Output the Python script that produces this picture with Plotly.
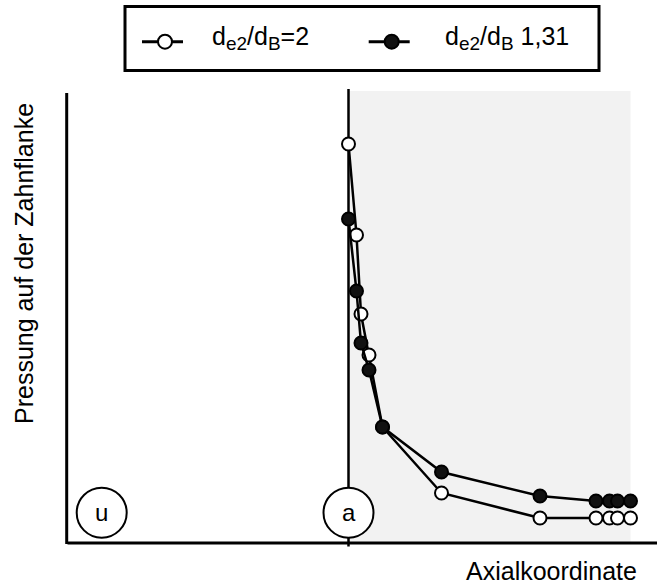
import plotly.graph_objects as go

# Axial coordinate of the measuring points (0 = position "a")
axial_pos = [0.0, 0.8, 1.25, 2.05, 3.4, 9.3, 19.15, 24.75, 26.1, 26.9, 28.2]

# Flank pressure for the two diameter ratios
pressure_ratio_2 = [3.99, 3.08, 2.29, 1.88, 1.16, 0.50, 0.25, 0.25, 0.25, 0.25, 0.25]
pressure_ratio_131 = [3.24, 2.52, 2.00, 1.73, 1.16, 0.71, 0.47, 0.42, 0.42, 0.42, 0.42]

SUB = "<sub><span style='font-size:19px'>{}</span></sub>"
series_names = [
    "d" + SUB.format("e2") + "/d" + SUB.format("B") + "=2",
    "d" + SUB.format("e2") + "/d" + SUB.format("B") + "\u00a01,31",
]
zone_labels = ["u", "a"]
zone_pos = [-24.68, 0.0]

x_title = "Axialkoordinate"
y_title = "Pressung auf der Zahnflanke"

W, H = 657, 586
ML, MR, MT, MB = 60, 0, 85, 38
FONT = "Liberation Sans, Arial, sans-serif"

# axis scale: 10 px per x unit, 100 px per y unit
X_RANGE = [-28.85, 30.85]
Y_RANGE = [-0.05, 4.58]


def px(xp):
    """pixel column -> paper x"""
    return (xp - ML) / (W - ML - MR)


def py(yp):
    """pixel row -> paper y"""
    return (H - MB - yp) / (H - MT - MB)


fig = go.Figure()

fig.add_trace(go.Scatter(
    x=axial_pos, y=pressure_ratio_2, mode="lines+markers",
    line=dict(color="black", width=2.5),
    marker=dict(symbol="circle", size=13, color="white",
                line=dict(color="black", width=2)),
    showlegend=False,
))
fig.add_trace(go.Scatter(
    x=axial_pos, y=pressure_ratio_131, mode="lines+markers",
    line=dict(color="black", width=2.5),
    marker=dict(symbol="circle", size=13, color="#111111",
                line=dict(color="black", width=2)),
    showlegend=False,
))

shapes = []
# shaded region behind the contact zone
shapes.append(dict(type="rect", xref="x", yref="y", x0=0, x1=axial_pos[-1],
                   y0=0, y1=4.52, fillcolor="#f2f2f2", line=dict(width=0),
                   layer="below"))
# axis lines
shapes.append(dict(type="line", xref="x", yref="y", x0=-28.18, x1=-28.18,
                   y0=-0.01, y1=4.50, line=dict(color="black", width=3),
                   layer="below"))
shapes.append(dict(type="line", xref="x", yref="y", x0=-28.1, x1=30.85,
                   y0=0, y1=0, line=dict(color="black", width=3),
                   layer="below"))
# boundary at position "a"
shapes.append(dict(type="line", xref="x", yref="y", x0=0, x1=0,
                   y0=-0.035, y1=4.54, line=dict(color="black", width=2.5),
                   layer="below"))
# zone markers
for zx in zone_pos:
    shapes.append(dict(type="circle", xref="x", yref="y",
                       x0=zx - 2.5, x1=zx + 2.5, y0=0.303 - 0.25, y1=0.303 + 0.25,
                       fillcolor="white", line=dict(color="black", width=2),
                       layer="below"))

# legend frame
shapes.append(dict(type="rect", xref="paper", yref="paper",
                   x0=px(125), x1=px(599), y0=py(70.5), y1=py(6.5),
                   line=dict(color="black", width=3), fillcolor="white"))
legend_x = [165, 391.7]
legend_fill = ["white", "#111111"]
for lx, fc in zip(legend_x, legend_fill):
    shapes.append(dict(type="line", xref="paper", yref="paper",
                       x0=px(lx - 23), x1=px(lx + 18), y0=py(41.7), y1=py(41.7),
                       line=dict(color="black", width=3)))
    shapes.append(dict(type="circle", xref="paper", yref="paper",
                       xsizemode="pixel", ysizemode="pixel",
                       xanchor=px(lx), yanchor=py(41.7),
                       x0=-7, x1=7, y0=-7, y1=7,
                       fillcolor=fc, line=dict(color="black", width=2)))

annotations = []
for zx, lab in zip(zone_pos, zone_labels):
    annotations.append(dict(x=zx, y=0.303, xref="x", yref="y", text=lab,
                            showarrow=False, font=dict(size=24, family=FONT, color="black"),
                            xanchor="center", yanchor="middle"))
for tx, name in zip([210, 443.3], series_names):
    annotations.append(dict(x=px(tx), y=py(38), xref="paper", yref="paper", text=name,
                            showarrow=False, font=dict(size=25, family=FONT, color="black"),
                            xanchor="left", yanchor="middle"))
annotations.append(dict(x=px(551), y=py(571), xref="paper", yref="paper", text=x_title,
                        showarrow=False, font=dict(size=25, family=FONT, color="black"),
                        xanchor="center", yanchor="middle"))
annotations.append(dict(x=px(24), y=py(264), xref="paper", yref="paper", text=y_title,
                        textangle=-90, showarrow=False,
                        font=dict(size=25, family=FONT, color="black"),
                        xanchor="center", yanchor="middle"))

fig.update_layout(
    width=W, height=H,
    margin=dict(l=ML, r=MR, t=MT, b=MB),
    paper_bgcolor="white", plot_bgcolor="white",
    xaxis=dict(range=X_RANGE, visible=False, fixedrange=True),
    yaxis=dict(range=Y_RANGE, visible=False, fixedrange=True),
    shapes=shapes, annotations=annotations,
    font=dict(family=FONT),
)

fig.write_html("out.html")
